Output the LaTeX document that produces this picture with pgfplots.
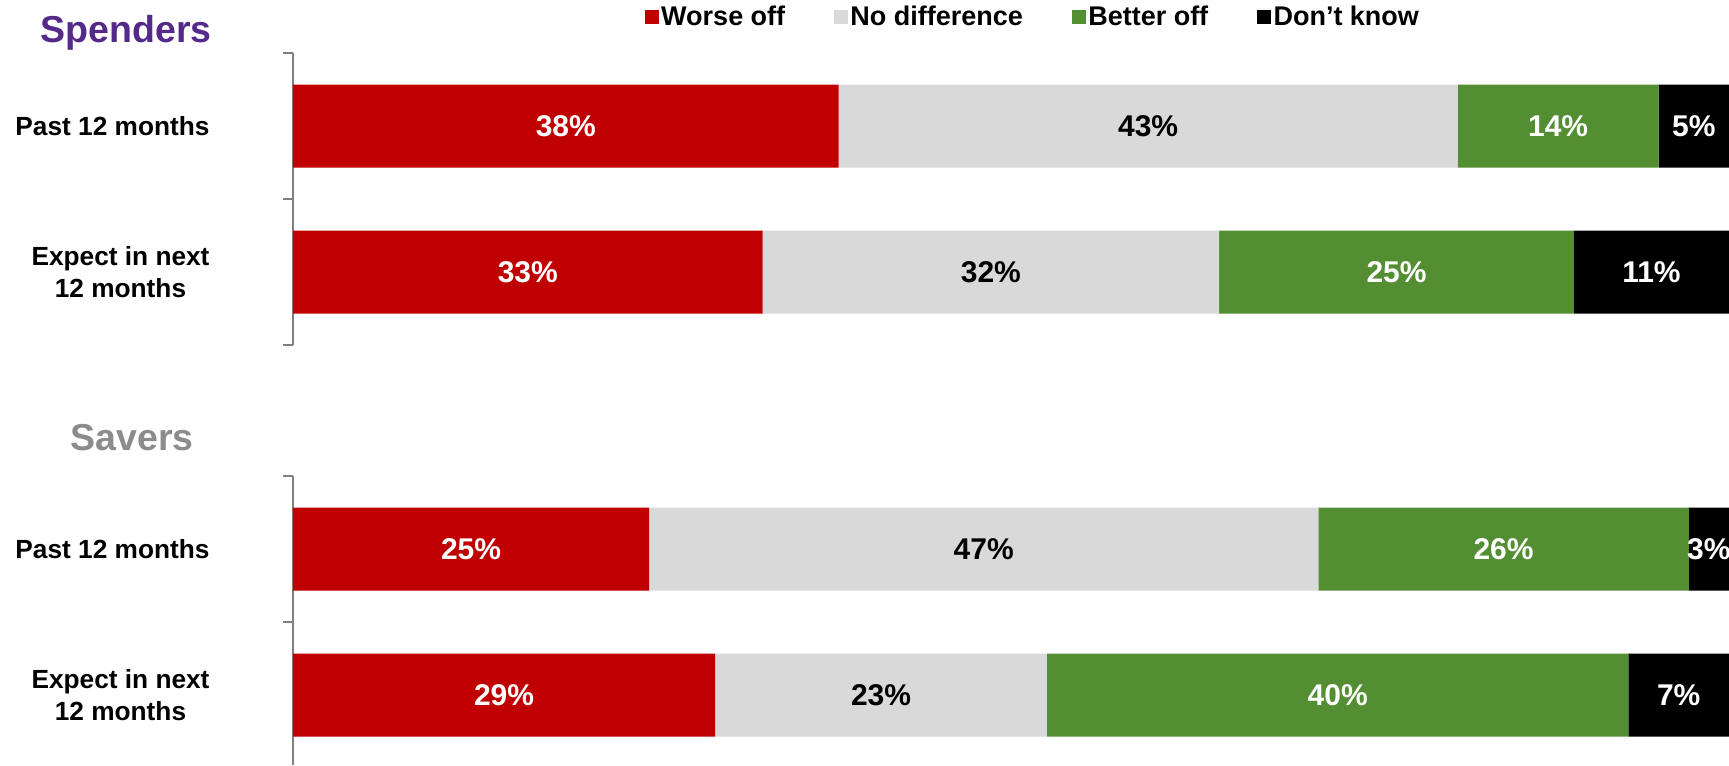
\documentclass[border=0pt]{standalone}
\usepackage{pgfplots}
\pgfplotsset{compat=1.18}
\usepackage{pgfplotstable}
\usepackage{fontspec}
\setmainfont{Liberation Sans}
\definecolor{worse}{RGB}{192,0,0}
\definecolor{nodiff}{RGB}{217,217,217}
\definecolor{better}{RGB}{84,142,50}
\definecolor{dk}{RGB}{0,0,0}
\definecolor{spend}{RGB}{84,41,138}
\definecolor{saver}{RGB}{140,140,140}
\definecolor{axgray}{RGB}{128,128,128}

% y=2: Past 12 months, y=1: Expect in next 12 months
\pgfplotstableread{
y w lbl
2 38.0 38
1 32.7 33
}\spWorse
\pgfplotstableread{
y w lbl
2 43.1 43
1 31.8 32
}\spNodiff
\pgfplotstableread{
y w lbl
2 14.0 14
1 24.7 25
}\spBetter
\pgfplotstableread{
y w lbl
2 4.9 5
1 10.8 11
}\spDK

\pgfplotstableread{
y w lbl
2 24.8 25
1 29.4 29
}\svWorse
\pgfplotstableread{
y w lbl
2 46.6 47
1 23.1 23
}\svNodiff
\pgfplotstableread{
y w lbl
2 25.8 26
1 40.5 40
}\svBetter
\pgfplotstableread{
y w lbl
2 2.8 3
1 7.0 7
}\svDK

\pgfplotsset{
  panel/.style={
    scale only axis, width=574.4pt,
    xmin=0, xmax=100, ymax=2.5,
    enlarge y limits=false,
    xbar stacked, bar width=33.2pt,
    hide x axis,
    axis y line*=left,
    y axis line style={axgray, line width=0.8pt},
    ytick={1,2},
    yticklabels={{Expect in next\\12 months},{Past 12 months}},
    major tick length=0pt,
    minor ytick={0.5,1.5,2.5},
    minor tick length=4pt, tick align=outside,
    minor tick style={axgray, line width=0.8pt},
    yticklabel style={font=\bfseries\fontsize{10.5}{12.8}\selectfont,
      align=center, anchor=east, inner sep=0pt, xshift=-33.2pt},
    visualization depends on={\thisrow{lbl} \as \lbl},
    nodes near coords={\pgfmathprintnumber[fixed,precision=0,assume math mode=true]{\lbl}\%},
    every node near coord/.style={font=\bfseries\fontsize{12}{14}\selectfont,
      anchor=center, text=white},
    clip=false,
  },
}

\begin{document}
\begin{tikzpicture}
\path[use as bounding box] (0pt,0pt) rectangle (691.6pt,-306pt);

\begin{axis}[panel, height=116.8pt, ymin=0.5,
  at={(117.2pt,-21.2pt)}, anchor=north west,
  legend columns=4,
  legend style={at={(axis description cs:0.2446,1.122)}, anchor=west,
    draw=none, fill=none, inner sep=0pt,
    font=\bfseries\fontsize{10.8}{12}\selectfont,
    nodes={inner sep=1pt},
    /tikz/every even column/.append style={column sep=18.5pt}},
  legend image code/.code={\fill[#1] (0pt,-2.8pt) rectangle (5.6pt,2.8pt);},
]
\addplot[fill=worse, draw=none] table[x=w, y=y] {\spWorse};
\addlegendentry{Worse off}
\addplot[fill=nodiff, draw=none, every node near coord/.append style={text=black}] table[x=w, y=y] {\spNodiff};
\addlegendentry{No difference}
\addplot[fill=better, draw=none] table[x=w, y=y] {\spBetter};
\addlegendentry{Better off}
\addplot[fill=dk, draw=none] table[x=w, y=y] {\spDK};
\addlegendentry{Don’t know}
\end{axis}

\begin{axis}[panel, height=115.6pt, ymin=0.521,
  at={(117.2pt,-190.4pt)}, anchor=north west]
\addplot[fill=worse, draw=none] table[x=w, y=y] {\svWorse};
\addplot[fill=nodiff, draw=none, every node near coord/.append style={text=black}] table[x=w, y=y] {\svNodiff};
\addplot[fill=better, draw=none] table[x=w, y=y] {\svBetter};
\addplot[fill=dk, draw=none] table[x=w, y=y] {\svDK};
\end{axis}

\node[anchor=base, font=\bfseries\fontsize{15}{18}\selectfont, text=spend] at (50.4pt,-16.8pt) {Spenders};
\node[anchor=base, font=\bfseries\fontsize{15}{18}\selectfont, text=saver] at (52.8pt,-180pt) {Savers};
\end{tikzpicture}
\end{document}
